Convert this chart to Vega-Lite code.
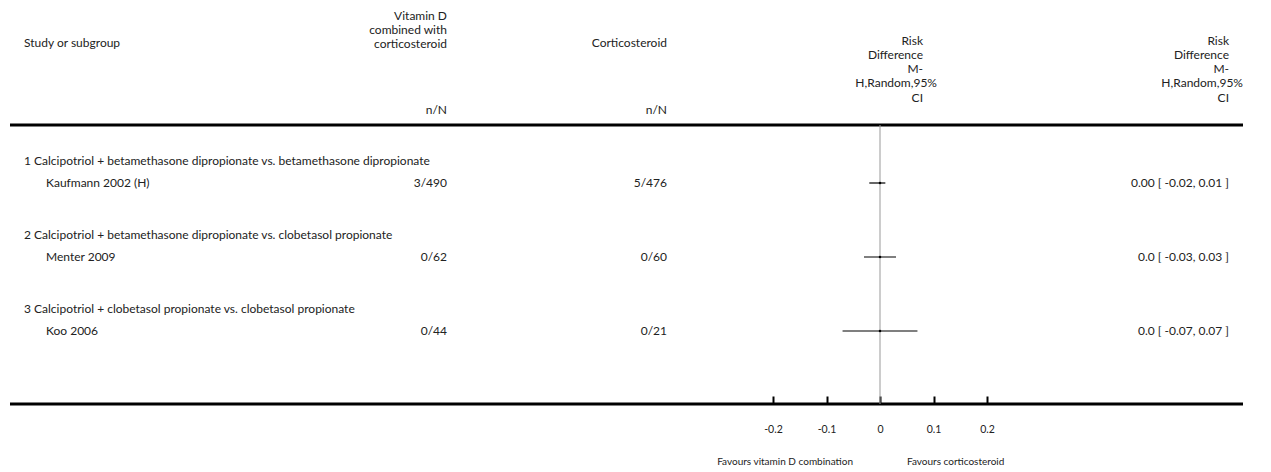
{
  "$schema": "https://vega.github.io/schema/vega-lite/v6.json",
  "width": 1271,
  "height": 472,
  "autosize": {"type": "none"},
  "padding": 0,
  "background": "white",
  "config": {
    "view": {"stroke": null},
    "text": {"font": "Lato", "fontSize": 12, "color": "#222", "lineHeight": 14.25}
  },
  "datasets": {
    "cells": [
      {"row": 1, "col": 2, "text": "Vitamin D\ncombined with\ncorticosteroid"},
      {"row": 2, "col": 4, "text": "Risk\nDifference\nM-"},
      {"row": 2, "col": 5, "text": "Risk\nDifference\nM-"},
      {"row": 3, "col": 0, "text": "Study or subgroup"},
      {"row": 3, "col": 3, "text": "Corticosteroid"},
      {"row": 4, "col": 4, "text": "H,Random,95%"},
      {"row": 4, "col": 5, "text": "H,Random,95%"},
      {"row": 5, "col": 4, "text": "CI"},
      {"row": 5, "col": 5, "text": "CI"},
      {"row": 6, "col": 2, "text": "n/N"},
      {"row": 6, "col": 3, "text": "n/N"},
      {"row": 8, "col": 0, "text": "1 Calcipotriol + betamethasone dipropionate vs. betamethasone dipropionate"},
      {"row": 9, "col": 1, "text": "Kaufmann 2002 (H)"},
      {"row": 9, "col": 2, "text": "3/490"},
      {"row": 9, "col": 3, "text": "5/476"},
      {"row": 9, "col": 5, "text": "0.00 [ -0.02, 0.01 ]"},
      {"row": 10, "col": 0, "text": "2 Calcipotriol + betamethasone dipropionate vs. clobetasol propionate"},
      {"row": 11, "col": 1, "text": "Menter 2009"},
      {"row": 11, "col": 2, "text": "0/62"},
      {"row": 11, "col": 3, "text": "0/60"},
      {"row": 11, "col": 5, "text": "0.0 [ -0.03, 0.03 ]"},
      {"row": 12, "col": 0, "text": "3 Calcipotriol + clobetasol propionate vs. clobetasol propionate"},
      {"row": 13, "col": 1, "text": "Koo 2006"},
      {"row": 13, "col": 2, "text": "0/44"},
      {"row": 13, "col": 3, "text": "0/21"},
      {"row": 13, "col": 5, "text": "0.0 [ -0.07, 0.07 ]"}
    ],
    "studies": [
      {"row": 9, "study": "Kaufmann 2002 (H)", "rd": 0.0, "lo": -0.02, "hi": 0.01},
      {"row": 11, "study": "Menter 2009", "rd": 0.0, "lo": -0.03, "hi": 0.03},
      {"row": 13, "study": "Koo 2006", "rd": 0.0, "lo": -0.07, "hi": 0.07}
    ],
    "hrules": [{"row": 7}, {"row": 14}],
    "vline": [{"row": 7, "row2": 14, "rd": 0}],
    "favours": [
      {"row": 15, "side": "left", "text": "Favours vitamin D combination"},
      {"row": 15, "side": "right", "text": "Favours corticosteroid"}
    ]
  },
  "encoding": {
    "y": {
      "field": "row",
      "type": "quantitative",
      "scale": {
        "domain": [0, 1, 2, 3, 4, 5, 6, 7, 8, 9, 10, 11, 12, 13, 14, 15, 16],
        "range": [0, 10.5, 35.5, 37.5, 78.25, 92.5, 104.5, 125, 161, 183, 235, 257, 309, 331, 404, 462, 472],
        "nice": false,
        "zero": false
      },
      "axis": null
    }
  },
  "layer": [
    {
      "data": {"name": "hrules"},
      "mark": {"type": "rule", "strokeWidth": 3, "color": "#000"},
      "encoding": {
        "x": {"datum": -1, "type": "quantitative", "scale": {"domain": [-1, 0, 1, 2, 3, 4, 5, 6], "range": [10, 24, 46, 447, 667, 923, 1229, 1243], "nice": false, "zero": false}, "axis": null},
        "x2": {"datum": 6}
      }
    },
    {
      "data": {"name": "vline"},
      "mark": {"type": "rule", "strokeWidth": 1, "color": "#999"},
      "encoding": {
        "x": {"field": "rd", "type": "quantitative", "scale": {"domain": [-0.2, 0.2], "range": [773, 987], "nice": false, "zero": false}, "axis": null},
        "y2": {"field": "row2"}
      }
    },
    {
      "data": {"name": "studies"},
      "mark": {"type": "rule", "strokeWidth": 1.2, "color": "#000"},
      "encoding": {
        "x": {
          "field": "lo",
          "type": "quantitative",
          "scale": {"domain": [-0.2, 0.2], "range": [773, 987], "nice": false, "zero": false},
          "axis": {
            "orient": "bottom",
            "offset": -68,
            "values": [-0.2, -0.1, 0, 0.1, 0.2],
            "format": "~g",
            "labelExpr": "replace(datum.label, '\u2212', '-')",
            "domain": false,
            "grid": false,
            "ticks": true,
            "tickSize": -8,
            "tickWidth": 2,
            "tickColor": "#000",
            "labelPadding": 28,
            "labelFont": "Lato",
            "labelFontSize": 10.5,
            "labelColor": "#222",
            "labelFlush": false,
            "labelOverlap": false,
            "title": null
          }
        },
        "x2": {"field": "hi"}
      }
    },
    {
      "data": {"name": "studies"},
      "mark": {"type": "point", "shape": "square", "filled": true, "size": 5, "color": "#000", "opacity": 1},
      "encoding": {
        "x": {"field": "rd", "type": "quantitative", "scale": {"domain": [-0.2, 0.2], "range": [773, 987], "nice": false, "zero": false}, "axis": null}
      }
    },
    {
      "data": {"name": "cells"},
      "transform": [{"filter": "datum.row <= 6 && datum.col <= 1"}],
      "mark": {"type": "text", "align": "left", "baseline": "top", "lineBreak": "\n"},
      "encoding": {
        "x": {"field": "col", "type": "quantitative", "scale": {"domain": [-1, 0, 1, 2, 3, 4, 5, 6], "range": [10, 24, 46, 447, 667, 923, 1229, 1243], "nice": false, "zero": false}, "axis": null},
        "text": {"field": "text", "type": "nominal"}
      }
    },
    {
      "data": {"name": "cells"},
      "transform": [{"filter": "datum.row <= 6 && datum.col >= 2 && datum.row !== 4"}],
      "mark": {"type": "text", "align": "right", "baseline": "top", "lineBreak": "\n"},
      "encoding": {
        "x": {"field": "col", "type": "quantitative", "scale": {"domain": [-1, 0, 1, 2, 3, 4, 5, 6], "range": [10, 24, 46, 447, 667, 923, 1229, 1243], "nice": false, "zero": false}, "axis": null},
        "text": {"field": "text", "type": "nominal"}
      }
    },
    {
      "data": {"name": "cells"},
      "transform": [{"filter": "datum.row === 4"}],
      "mark": {"type": "text", "align": "right", "baseline": "top", "dx": 14},
      "encoding": {
        "x": {"field": "col", "type": "quantitative", "scale": {"domain": [-1, 0, 1, 2, 3, 4, 5, 6], "range": [10, 24, 46, 447, 667, 923, 1229, 1243], "nice": false, "zero": false}, "axis": null},
        "text": {"field": "text", "type": "nominal"}
      }
    },
    {
      "data": {"name": "cells"},
      "transform": [{"filter": "datum.row >= 8 && datum.col <= 1"}],
      "mark": {"type": "text", "align": "left", "baseline": "middle"},
      "encoding": {
        "x": {"field": "col", "type": "quantitative", "scale": {"domain": [-1, 0, 1, 2, 3, 4, 5, 6], "range": [10, 24, 46, 447, 667, 923, 1229, 1243], "nice": false, "zero": false}, "axis": null},
        "text": {"field": "text", "type": "nominal"}
      }
    },
    {
      "data": {"name": "cells"},
      "transform": [{"filter": "datum.row >= 8 && datum.col >= 2"}],
      "mark": {"type": "text", "align": "right", "baseline": "middle"},
      "encoding": {
        "x": {"field": "col", "type": "quantitative", "scale": {"domain": [-1, 0, 1, 2, 3, 4, 5, 6], "range": [10, 24, 46, 447, 667, 923, 1229, 1243], "nice": false, "zero": false}, "axis": null},
        "text": {"field": "text", "type": "nominal"}
      }
    },
    {
      "data": {"name": "favours"},
      "transform": [{"filter": "datum.side === 'left'"}],
      "mark": {"type": "text", "align": "right", "baseline": "middle", "fontSize": 10, "dx": -27},
      "encoding": {
        "x": {"datum": 0, "type": "quantitative", "scale": {"domain": [-0.2, 0.2], "range": [773, 987], "nice": false, "zero": false}, "axis": null},
        "text": {"field": "text", "type": "nominal"}
      }
    },
    {
      "data": {"name": "favours"},
      "transform": [{"filter": "datum.side === 'right'"}],
      "mark": {"type": "text", "align": "left", "baseline": "middle", "fontSize": 10, "dx": 27},
      "encoding": {
        "x": {"datum": 0, "type": "quantitative", "scale": {"domain": [-0.2, 0.2], "range": [773, 987], "nice": false, "zero": false}, "axis": null},
        "text": {"field": "text", "type": "nominal"}
      }
    }
  ],
  "resolve": {"scale": {"x": "independent"}, "axis": {"x": "independent"}}
}
